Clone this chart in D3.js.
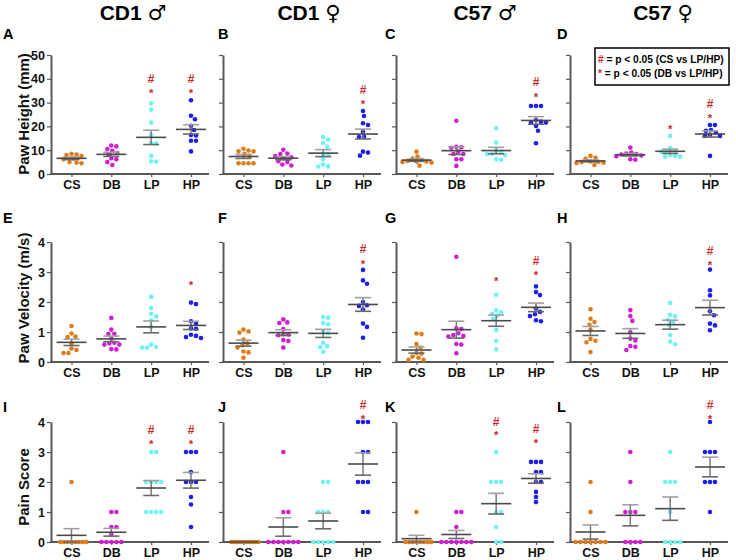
<!DOCTYPE html>
<html><head><meta charset="utf-8">
<script src="https://cdn.jsdelivr.net/npm/d3@7"></script>
<style>body{margin:0;background:#fff} svg{display:block}</style>
</head><body><svg id="c" width="736" height="560"></svg>
<script>
const groups = ["CS","DB","LP","HP"];
const groupColors = ["#e07b1a","#d21ed2","#6ef2f2","#1e1ef0"];
const columnTitles = [["CD1","♂"],["CD1","♀"],["C57","♂"],["C57","♀"]];
const panelLetters = ["A","B","C","D","E","F","G","H","I","J","K","L"];
const rowTitles = ["Paw Height (mm)","Paw Velocity (m/s)","Pain Score"];
const rowDomains = [[0,50],[0,4],[0,4]];
const rowTicks = [[0,10,20,30,40,50],[0,1,2,3,4],[0,1,2,3,4]];
const legendLines = [["#"," = p < 0.05 (CS vs LP/HP)"],["*"," = p < 0.05 (DB vs LP/HP)"]];

const heightCD1M = [
 [8.0, 8.2, 7.5, 8.5, 6.5, 6.2, 5.0, 4.5, 4.8],
 [12, 11.6, 10.5, 9.8, 8.8, 8.3, 6.6, 6.2, 5.0, 3.8],
 [29.7, 27, 21.6, 16.4, 13, 12.8, 7.6, 5.2, 5.3],
 [31, 24.5, 23, 20.3, 18.5, 16.4, 16.2, 14, 14, 9.5]
];
const heightCD1F = [
 [9.5, 9.5, 9.9, 10.6, 7.6, 4.5, 4.5, 4.5, 4.5, 8.5],
 [10.2, 8.6, 8.4, 7.5, 7.0, 6.6, 5.4, 5.0, 3.6, 4.0],
 [15.5, 14.5, 13.0, 11.5, 8.4, 8.3, 6.2, 4.0, 3.1, 3.2],
 [26.5, 24.4, 21.3, 20.6, 17.8, 15.7, 15.5, 9.4, 9.0, 7.7]
];
const heightC57M = [
 [9.4, 7.3, 6.5, 6.0, 5.5, 5.2, 5.2, 5.0, 4.8, 3.5],
 [22.4, 11.4, 11.2, 11.0, 9.4, 8.4, 8.4, 6.2, 6.2, 3.4],
 [19.2, 13.2, 9.8, 9.4, 8.4, 8.4, 8.0, 6.2, 6.0],
 [28.6, 28.6, 28.6, 22.7, 22, 21.6, 21.6, 20.2, 18.2, 12.9]
];
const heightC57F = [
 [7.6, 6.8, 6.4, 5.3, 5.1, 5.0, 4.8, 4.6, 3.8],
 [11.1, 9.0, 8.6, 8.4, 8.2, 7.8, 7.5, 6.2, 6.0],
 [16, 10.9, 9.8, 9.5, 9.4, 7.6, 7.3, 7.3, 8.0],
 [20.6, 20.6, 18.5, 18.1, 17.5, 16.4, 16.0, 16.0, 7.6]
];
const velocityCD1M = [
 [1.2, 0.95, 0.85, 0.83, 0.62, 0.45, 0.4, 0.3, 0.3],
 [1.47, 1.08, 0.94, 0.93, 0.78, 0.62, 0.58, 0.58, 0.64, 0.43, 0.42],
 [2.17, 1.8, 1.61, 1.52, 1.39, 1.17, 0.5, 0.48, 0.48, 0.58],
 [1.98, 1.93, 1.36, 1.28, 1.11, 1.12, 0.91, 0.87, 0.8, 0.83]
];
const velocityCD1F = [
 [1.08, 0.98, 1.02, 0.75, 0.62, 0.55, 0.48, 0.35, 0.32, 0.14],
 [1.42, 1.32, 1.3, 1.1, 0.93, 0.92, 0.89, 0.73, 0.7, 0.48],
 [1.48, 1.5, 1.26, 1.3, 1.02, 0.97, 0.64, 0.53, 0.5, 0.34],
 [3.07, 2.72, 2.61, 2.0, 1.89, 1.87, 1.76, 1.28, 1.17, 0.81]
];
const velocityC57M = [
 [0.95, 0.93, 0.6, 0.48, 0.3, 0.28, 0.18, 0.14, 0.07, 0.07],
 [3.51, 1.12, 1.1, 0.96, 0.9, 0.87, 0.85, 0.6, 0.58, 0.29],
 [2.24, 1.66, 1.72, 1.6, 1.55, 1.43, 1.07, 0.7, 0.42],
 [2.52, 2.33, 2.23, 1.78, 1.67, 1.59, 1.53, 1.36, 1.39]
];
const velocityC57F = [
 [1.76, 1.44, 1.33, 1.24, 1.07, 0.77, 0.71, 0.66, 0.33],
 [1.73, 1.53, 1.37, 0.99, 0.78, 0.72, 0.53, 0.51, 0.4],
 [1.97, 1.52, 1.57, 1.41, 1.33, 1.23, 0.9, 0.68, 0.59],
 [3.08, 2.39, 2.22, 1.69, 1.56, 1.28, 1.22, 1.06]
];
const painCD1M = [
 [2,0,0,0,0,0,0,0,0],
 [1,1,0.5,0.5,0.25,0,0,0,0,0],
 [3,3,2,2,2,2,1,1,1,1],
 [3,3,3,2.33,2,2,2,1.5,1.25,0.5]
];
const painCD1F = [
 [0,0,0,0,0,0,0,0,0,0],
 [3,1,1,0,0,0,0,0,0,0],
 [2,2,1,1,1,0,0,0,0,0],
 [4,4,4,3,3,2,2,2,1,1]
];
const painC57M = [
 [1,0,0,0,0,0,0,0,0],
 [1,1,0.5,0,0,0,0,0,0,0],
 [3,2,2,2,1,1,0.5,0,0],
 [2.67,2.67,2.67,2.33,2.33,2,2,1.67,1.5,1.33]
];
const painC57F = [
 [2,1,0,0,0,0,0,0,0],
 [3,2,1,1,1,0,0,0,0],
 [3,2,2,2,1,0,0,0,0],
 [4,3,3,3,2,2,2,1]
];
// significance marker heights (data units) per panel, per group
const hashMarks = [
 [null,null,40.2,40.2],[null,null,null,35.3],[null,null,null,38.8],[null,null,null,29.4],
 [null,null,null,null],[null,null,null,3.76],[null,null,null,3.36],[null,null,null,3.7],
 [null,null,3.75,3.75],[null,null,null,4.56],[null,null,4.02,3.76],[null,null,null,4.58]
];
const starMarks = [
 [null,null,35.3,35.3],[null,null,null,30.7],[null,null,null,33.6],[null,null,19.9,24.5],
 [null,null,null,2.64],[null,null,null,3.37],[null,null,2.78,2.98],[null,null,null,3.31],
 [null,null,3.36,3.36],[null,null,null,4.19],[null,null,3.65,3.4],[null,null,null,4.19]
];

const panels = [heightCD1M, heightCD1F, heightC57M, heightC57F,
                velocityCD1M, velocityCD1F, velocityC57M, velocityC57F,
                painCD1M, painCD1F, painC57M, painC57F];

const FONT = "'Liberation Sans', Arial, sans-serif";
const AX = "#585858";
const RED = "#cc2a2a";
const colX = [51, 223, 396, 570];
const rowRange = [[174, 55], [362, 242], [542, 422]];
const letterX = [3, 218, 385, 557];
const letterY = [39, 223, 412];
const titleCX = [133, 309, 485, 663];
const rowTitleCY = [114, 298, 487];

const svg = d3.select("#c");

function swarm(ys) {
  const n = ys.length, D = 5;
  const order = d3.range(n).sort((a, b) => ys[a] - ys[b]);
  const off = new Array(n), placed = [];
  order.forEach(i => {
    for (let k = 0; k < 400; k++) {
      const cand = k === 0 ? 0 : (k % 2 === 1 ? (k + 1) / 2 : -k / 2);
      const hit = placed.some(j => {
        const dx = off[j] - cand, dy = ys[j] - ys[i];
        return dx * dx + dy * dy < D * D;
      });
      if (!hit) { off[i] = cand; placed.push(i); break; }
    }
  });
  const m = d3.max(off, Math.abs) || 0;
  const lim = 15;
  if (m > lim) for (let i = 0; i < n; i++) off[i] *= lim / m;
  return off;
}

panels.forEach((data, idx) => {
  const r = Math.floor(idx / 4), c = idx % 4;
  const x0 = colX[c];
  const y = d3.scaleLinear().domain(rowDomains[r]).range(rowRange[r]);
  const x = d3.scalePoint().domain(groups).range([x0 + 20.5, x0 + 140]);
  const g = svg.append("g");

  // y axis
  const ya = g.append("g").attr("transform", `translate(${x0},0)`)
    .call(d3.axisLeft(y).tickValues(rowTicks[r]).tickSize(4).tickSizeOuter(0).tickPadding(2)
      .tickFormat(c === 0 ? d3.format("d") : () => ""));
  ya.select(".domain").attr("stroke", AX).attr("stroke-width", 2);
  ya.selectAll(".tick line").attr("stroke", AX).attr("stroke-width", 1.2);
  ya.selectAll(".tick text").attr("font-family", FONT).attr("font-weight", "bold")
    .attr("font-size", 12.5).attr("fill", "#111");
  if (c !== 0) ya.selectAll(".tick text").remove();

  // x axis
  const xa = g.append("g").attr("transform", `translate(0,${rowRange[r][0]})`)
    .call(d3.axisBottom(x).tickSize(3).tickPadding(3));
  xa.select(".domain").remove();
  xa.selectAll(".tick line").attr("stroke", AX).attr("stroke-width", 1.2);
  xa.selectAll(".tick text").attr("font-family", FONT).attr("font-weight", "bold")
    .attr("font-size", 12.5).attr("fill", "#111");
  xa.append("line").attr("x1", x0 - 1).attr("x2", x0 + 158).attr("y1", 0).attr("y2", 0)
    .attr("stroke", AX).attr("stroke-width", 2);

  // dots
  data.forEach((vals, gi) => {
    const ys = vals.map(v => y(v));
    const off = swarm(ys);
    g.append("g").selectAll("circle").data(vals).join("circle")
      .attr("cx", (d, i) => x(groups[gi]) + off[i])
      .attr("cy", d => y(d))
      .attr("r", 2.3)
      .attr("fill", groupColors[gi]);
  });

  // mean +/- SEM
  data.forEach((vals, gi) => {
    const m = d3.mean(vals);
    const sem = (d3.deviation(vals) || 0) / Math.sqrt(vals.length);
    const cx = x(groups[gi]);
    const eb = g.append("g");
    eb.append("line").attr("x1", cx).attr("x2", cx).attr("y1", y(m - sem)).attr("y2", y(m + sem))
      .attr("stroke", "#7a7a7a").attr("stroke-width", 1.5);
    [m - sem, m + sem].forEach((v, k) => {
      eb.append("line").attr("x1", cx - 8).attr("x2", cx + 8).attr("y1", y(v)).attr("y2", y(v))
        .attr("stroke", k === 0 ? "#6a6a6a" : "#a0a0a0").attr("stroke-width", 1.6);
    });
    eb.append("line").attr("x1", cx - 15).attr("x2", cx + 15).attr("y1", y(m)).attr("y2", y(m))
      .attr("stroke", "#4a4a4a").attr("stroke-width", 1.6);
  });

  // significance markers
  groups.forEach((gname, gi) => {
    const h = hashMarks[idx][gi], s = starMarks[idx][gi];
    const cx = x(gname);
    if (h != null) g.append("text").attr("x", cx).attr("y", y(h) + 4.2)
      .attr("text-anchor", "middle").attr("font-family", FONT).attr("font-weight", "bold")
      .attr("font-size", 12).attr("fill", RED).text("#");
    if (s != null) g.append("text").attr("x", cx).attr("y", y(s) + 6.6)
      .attr("text-anchor", "middle").attr("font-family", FONT).attr("font-weight", "bold")
      .attr("font-size", 11.5).attr("fill", RED).text("*");
  });

  // panel letter
  svg.append("text").attr("x", letterX[c]).attr("y", letterY[r])
    .attr("font-family", FONT).attr("font-weight", "bold").attr("font-size", 14.5)
    .attr("fill", "#000").text(panelLetters[idx]);
});

// row titles
rowTitles.forEach((t, r) => {
  svg.append("text").attr("transform", `translate(29,${rowTitleCY[r]}) rotate(-90)`)
    .attr("text-anchor", "middle").attr("font-family", FONT).attr("font-weight", "bold")
    .attr("font-size", 15).attr("fill", "#111").text(t);
});

// column titles
columnTitles.forEach((t, c) => {
  const tx = svg.append("text").attr("x", titleCX[c]).attr("y", 20).attr("text-anchor", "middle")
    .attr("font-family", FONT).attr("font-weight", "bold").attr("font-size", 21).attr("fill", "#000");
  tx.append("tspan").text(t[0] + " ");
  tx.append("tspan").attr("font-family", "'DejaVu Sans', sans-serif").attr("font-weight", "normal")
    .attr("font-size", 21).text(t[1]);
});

// legend (panel D)
svg.append("rect").attr("x", 595).attr("y", 48).attr("width", 134).attr("height", 37)
  .attr("fill", "#fff").attr("stroke", "#000").attr("stroke-width", 1.5);
legendLines.forEach((l, i) => {
  const tx = svg.append("text").attr("x", 598).attr("y", 63 + i * 13.5)
    .attr("font-family", FONT).attr("font-weight", "bold").attr("font-size", 10.2).attr("fill", "#000");
  tx.append("tspan").attr("fill", RED).text(l[0]);
  tx.append("tspan").text(l[1]);
});
</script></body></html>
